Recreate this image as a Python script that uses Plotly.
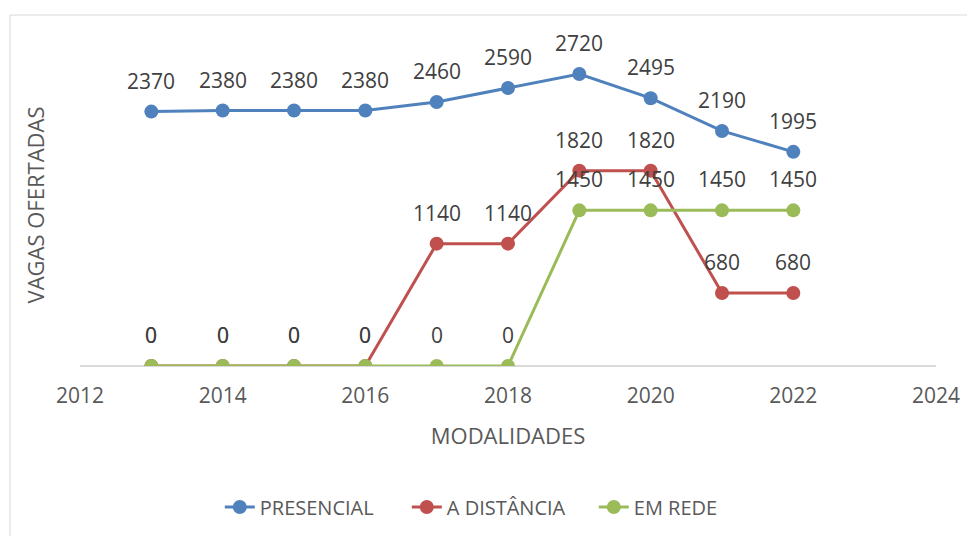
import plotly.graph_objects as go

years = [2013, 2014, 2015, 2016, 2017, 2018, 2019, 2020, 2021, 2022]
presencial = [2370, 2380, 2380, 2380, 2460, 2590, 2720, 2495, 2190, 1995]
a_distancia = [0, 0, 0, 0, 1140, 1140, 1820, 1820, 680, 680]
em_rede = [0, 0, 0, 0, 0, 0, 1450, 1450, 1450, 1450]

series = [("PRESENCIAL", presencial, "#4F81BD"),
          ("A DISTÂNCIA", a_distancia, "#C0504D"),
          ("EM REDE", em_rede, "#9BBB59")]

font = "Open Sans"

fig = go.Figure()
annotations = []
for name, vals, col in series:
    fig.add_trace(go.Scatter(x=years, y=vals, name=name, mode="lines+markers",
                             line=dict(color=col, width=3),
                             marker=dict(color=col, size=14)))
    for x, v in zip(years, vals):
        annotations.append(dict(x=x, y=v, text=str(v), showarrow=False, yshift=31,
                                font=dict(family=font, size=21, color="#404040")))

# chart border (Excel chart area)
fig.add_shape(type="rect", xref="paper", yref="paper",
              x0=-0.0818, x1=1.06, y0=-0.6, y1=1.090,
              line=dict(color="#D9D9D9", width=1), layer="below")

# page body has an 8px margin, so the figure is offset by that much
fig.update_layout(
    width=975, height=536,
    margin=dict(l=72, r=47, t=36, b=178),
    plot_bgcolor="white", paper_bgcolor="white",
    font=dict(family=font, size=21, color="#595959"),
    annotations=annotations,
    showlegend=True,
    legend=dict(orientation="h", x=0.491, xanchor="center", y=-0.438, yanchor="middle",
                font=dict(size=20, color="#595959"),
                entrywidth=142, entrywidthmode="pixels",
                traceorder="normal"),
    xaxis=dict(range=[2012, 2024], dtick=2, tick0=2012, showgrid=False, zeroline=False,
               showline=False, ticks="", ticklabelstandoff=15,
               tickfont=dict(size=21, color="#595959"),
               title=dict(text="MODALIDADES", standoff=20, font=dict(size=22, color="#595959"))),
    yaxis=dict(range=[0, 3000], showgrid=False, zeroline=True, zerolinecolor="#D9D9D9",
               zerolinewidth=1.5, showticklabels=False, showline=False,
               title=dict(text="VAGAS OFERTADAS", standoff=28, font=dict(size=22, color="#595959"))),
)

fig.write_html("out.html")
